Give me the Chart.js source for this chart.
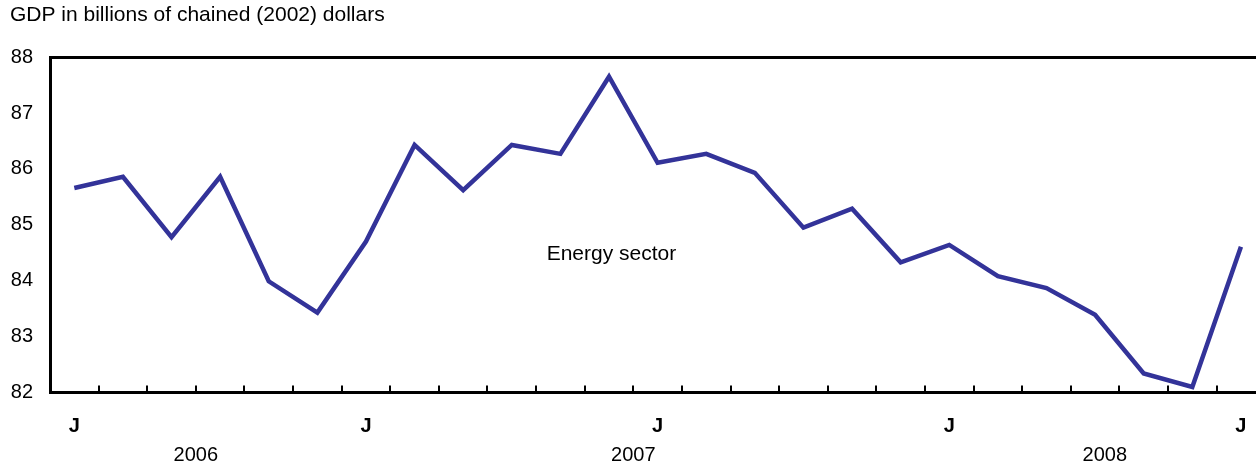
<!DOCTYPE html>
<html>
<head>
<meta charset="utf-8">
<title>Energy sector GDP</title>
<script src="https://cdn.jsdelivr.net/npm/chart.js@4.4.1/dist/chart.umd.min.js"></script>
<style>
  html, body { margin: 0; padding: 0; background: #fff; }
  #wrap { width: 1256px; height: 468px; position: relative; }
</style>
</head>
<body>
<div id="wrap"><canvas id="gdpChart"></canvas></div>
<script>
// Monthly values, July 2006 to July 2008
const months = ['Jul', 'Aug', 'Sep', 'Oct', 'Nov', 'Dec',
  'Jan', 'Feb', 'Mar', 'Apr', 'May', 'Jun', 'Jul', 'Aug', 'Sep', 'Oct', 'Nov', 'Dec',
  'Jan', 'Feb', 'Mar', 'Apr', 'May', 'Jun', 'Jul'];
const energyGdp = [85.66, 85.86, 84.78, 85.86, 83.99, 83.43,
  84.70, 86.43, 85.62, 86.43, 86.27, 87.65, 86.11, 86.27, 85.93, 84.95, 85.29, 84.33,
  84.64, 84.08, 83.87, 83.39, 82.34, 82.10, 84.61];
const years = ['2006', '2007', '2008'];
const yearCenters = [2.5, 11.5, 21.2];
const yMin = 82;
const yMax = 88;
const seriesLabel = 'Energy sector';

const FONT = 'Liberation Sans, Arial, Helvetica, sans-serif';
const FONT_SIZE = 20;
const TEXT_SIZE = 21;

// text label sitting inside the plot
const seriesLabelPlugin = {
  id: 'seriesLabel',
  afterDatasetsDraw(chart) {
    const { ctx, scales } = chart;
    ctx.save();
    ctx.font = `${TEXT_SIZE}px ${FONT}`;
    ctx.fillStyle = '#000';
    ctx.textAlign = 'center';
    ctx.textBaseline = 'middle';
    ctx.fillText(seriesLabel, scales.x.getPixelForValue(11.05), scales.y.getPixelForValue(84.47));
    ctx.restore();
  }
};

// keep the plot running to the right edge, as in the original
const noEdgePadding = (scale) => {
  scale.paddingLeft = 0;
  scale.paddingRight = 0;
};

const ctx = document.getElementById('gdpChart').getContext('2d');
window.lineChart = new Chart(ctx, {
  type: 'line',
  data: {
    datasets: [{
      label: seriesLabel,
      data: energyGdp.map((v, i) => ({ x: i, y: v })),
      borderColor: '#333399',
      borderWidth: 4.5,
      pointRadius: 0,
      tension: 0,
      fill: false
    }]
  },
  options: {
    responsive: true,
    maintainAspectRatio: false,
    animation: false,
    layout: { padding: { left: 10, right: 0, top: 0, bottom: 0 } },
    plugins: {
      legend: { display: false },
      tooltip: { enabled: false },
      title: {
        display: true,
        text: 'GDP in billions of chained (2002) dollars',
        align: 'start',
        color: '#000',
        font: { family: FONT, size: TEXT_SIZE, weight: 'normal' },
        padding: { top: 3, bottom: 29 }
      }
    },
    scales: {
      x: {
        type: 'linear',
        min: -0.5,
        max: 24.31,
        border: { color: '#000', width: 3 },
        grid: { offset: true, drawOnChartArea: false, color: '#000', lineWidth: 2, tickLength: -7 },
        ticks: {
          autoSkip: false,
          maxRotation: 0,
          padding: 29,
          color: '#000',
          font: { family: FONT, size: FONT_SIZE, weight: 'bold' },
          callback: (value) => {
            const m = months[value];
            return (m === 'Jan' || m === 'Jul') ? m.charAt(0) : '';
          }
        },
        afterBuildTicks: (scale) => { scale.ticks = months.map((m, i) => ({ value: i })); },
        afterFit: (scale) => { scale.height = 45; noEdgePadding(scale); }
      },
      year: {
        type: 'linear',
        position: 'bottom',
        min: -0.5,
        max: 24.31,
        border: { display: false },
        grid: { display: false, drawTicks: false },
        ticks: {
          autoSkip: false,
          maxRotation: 0,
          padding: 6,
          color: '#000',
          font: { family: FONT, size: FONT_SIZE },
          callback: (value, index) => years[index]
        },
        afterBuildTicks: (scale) => { scale.ticks = yearCenters.map(v => ({ value: v })); },
        afterFit: (scale) => { scale.height = 30.5; noEdgePadding(scale); }
      },
      y: {
        min: yMin,
        max: yMax,
        border: { color: '#000', width: 3 },
        grid: {
          drawTicks: false,
          lineWidth: 3,
          color: (c) => (c.tick && c.tick.value === yMax ? '#000' : 'rgba(0,0,0,0)')
        },
        ticks: {
          stepSize: 1,
          padding: 17,
          color: '#000',
          font: { family: FONT, size: FONT_SIZE }
        },
        afterFit: (scale) => { scale.width = 40; }
      }
    }
  },
  plugins: [seriesLabelPlugin]
});
</script>
</body>
</html>
